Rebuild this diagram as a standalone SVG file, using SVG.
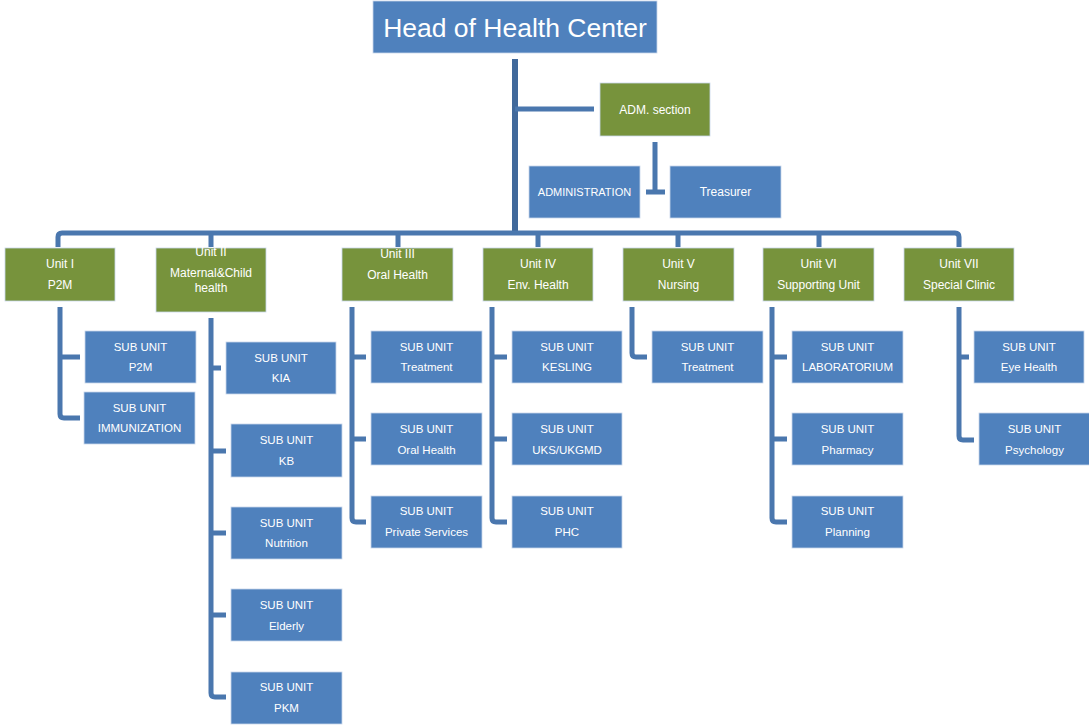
<svg xmlns="http://www.w3.org/2000/svg" width="1089" height="725" viewBox="0 0 1089 725">
  <style>
    .blue { fill: #4F81BD; stroke: #C9D6EA; stroke-width: 0.8; }
    .green { fill: #77933C; stroke: #C9D6EA; stroke-width: 0.8; }
    text { font-family: "Liberation Sans", Arial, sans-serif; fill: #FFFFFF; text-anchor: middle; }
    .unit { font-size: 12px; }
    .sub { font-size: 11.5px; }
    .conn { fill: none; stroke: #4A77AE; stroke-width: 5; stroke-linejoin: round; }
    .trunk { fill: none; stroke: #41699B; stroke-width: 6; }
  </style>
  <rect width="1089" height="725" fill="#FFFFFF"/>

  <!-- connectors -->
  <g id="connectors">
    <path class="trunk" d="M515 59 V233"/>
    <path class="conn" d="M515 109 H594"/>
    <path class="conn" d="M655 142 V192 M646 192 H665"/>
    <!-- bus to units -->
    <path class="conn" d="M58 247 V237 Q58 233 62 233 H955 Q959 233 959 237 V247"/>
    <path class="conn" d="M211 233 V247 M398 233 V247 M538 233 V247 M678 233 V247 M819 233 V247"/>
    <!-- unit I -->
    <path class="conn" d="M60 307 V414 Q60 418 64 418 H80 M60 357 H80"/>
    <!-- unit II -->
    <path class="conn" d="M211 318 V693 Q211 697 215 697 H226 M211 368 H221 M211 451 H226 M211 533 H226 M211 615 H226"/>
    <!-- unit III -->
    <path class="conn" d="M352 307 V518 Q352 522 356 522 H366 M352 357 H366 M352 439 H366"/>
    <!-- unit IV -->
    <path class="conn" d="M492 307 V518 Q492 522 496 522 H507 M492 357 H507 M492 439 H507"/>
    <!-- unit V -->
    <path class="conn" d="M632 307 V353 Q632 357 636 357 H647"/>
    <!-- unit VI -->
    <path class="conn" d="M772 307 V518 Q772 522 776 522 H787 M772 357 H787 M772 439 H787"/>
    <!-- unit VII -->
    <path class="conn" d="M959 307 V436 Q959 440 963 440 H974 M959 357 H969"/>
  </g>

  <!-- top level -->
  <g id="head">
    <rect class="blue" x="373" y="1" width="284" height="52"/>
    <text x="515" y="37" style="font-size:26.5px">Head of Health Center</text>
  </g>
  <g id="adm-section">
    <rect class="green" x="600" y="83" width="110" height="53"/>
    <text class="unit" x="655" y="114">ADM. section</text>
  </g>
  <g id="administration">
    <rect class="blue" x="529" y="166" width="111" height="52"/>
    <text x="584.5" y="196" style="font-size:11px">ADMINISTRATION</text>
  </g>
  <g id="treasurer">
    <rect class="blue" x="670" y="166" width="111" height="52"/>
    <text class="unit" x="725.5" y="196">Treasurer</text>
  </g>

  <!-- units -->
  <g id="unit-1">
    <rect class="green" x="5" y="248" width="110" height="53"/>
    <text class="unit" x="60" y="268">Unit I</text>
    <text class="unit" x="60" y="289">P2M</text>
  </g>
  <g id="unit-2">
    <rect class="green" x="156" y="248" width="110" height="64"/>
    <text class="unit" x="211" y="256">Unit II</text>
    <text class="unit" x="211" y="277">Maternal&amp;Child</text>
    <text class="unit" x="211" y="292">health</text>
  </g>
  <g id="unit-3">
    <rect class="green" x="342" y="248" width="111" height="53"/>
    <text class="unit" x="397.5" y="258">Unit III</text>
    <text class="unit" x="397.5" y="279">Oral Health</text>
  </g>
  <g id="unit-4">
    <rect class="green" x="483" y="248" width="110" height="53"/>
    <text class="unit" x="538" y="268">Unit IV</text>
    <text class="unit" x="538" y="289">Env. Health</text>
  </g>
  <g id="unit-5">
    <rect class="green" x="623" y="248" width="111" height="53"/>
    <text class="unit" x="678.5" y="268">Unit V</text>
    <text class="unit" x="678.5" y="289">Nursing</text>
  </g>
  <g id="unit-6">
    <rect class="green" x="763" y="248" width="111" height="53"/>
    <text class="unit" x="818.5" y="268">Unit VI</text>
    <text class="unit" x="818.5" y="289">Supporting Unit</text>
  </g>
  <g id="unit-7">
    <rect class="green" x="904" y="248" width="110" height="53"/>
    <text class="unit" x="959" y="268">Unit VII</text>
    <text class="unit" x="959" y="289">Special Clinic</text>
  </g>

  <!-- sub units: unit I -->
  <g id="sub-p2m">
    <rect class="blue" x="85" y="331" width="111" height="52"/>
    <text class="sub" x="140.5" y="351">SUB UNIT</text>
    <text class="sub" x="140.5" y="371">P2M</text>
  </g>
  <g id="sub-immunization">
    <rect class="blue" x="84" y="392" width="111" height="52"/>
    <text class="sub" x="139.5" y="412">SUB UNIT</text>
    <text class="sub" x="139.5" y="432">IMMUNIZATION</text>
  </g>

  <!-- sub units: unit II -->
  <g id="sub-kia">
    <rect class="blue" x="226" y="342" width="110" height="52"/>
    <text class="sub" x="281" y="362">SUB UNIT</text>
    <text class="sub" x="281" y="382">KIA</text>
  </g>
  <g id="sub-kb">
    <rect class="blue" x="231" y="424" width="111" height="53"/>
    <text class="sub" x="286.5" y="444">SUB UNIT</text>
    <text class="sub" x="286.5" y="465">KB</text>
  </g>
  <g id="sub-nutrition">
    <rect class="blue" x="231" y="507" width="111" height="52"/>
    <text class="sub" x="286.5" y="527">SUB UNIT</text>
    <text class="sub" x="286.5" y="547">Nutrition</text>
  </g>
  <g id="sub-elderly">
    <rect class="blue" x="231" y="589" width="111" height="52"/>
    <text class="sub" x="286.5" y="609">SUB UNIT</text>
    <text class="sub" x="286.5" y="630">Elderly</text>
  </g>
  <g id="sub-pkm">
    <rect class="blue" x="231" y="672" width="111" height="52"/>
    <text class="sub" x="286.5" y="691">SUB UNIT</text>
    <text class="sub" x="286.5" y="712">PKM</text>
  </g>

  <!-- sub units: unit III -->
  <g id="sub-treatment-oral">
    <rect class="blue" x="371" y="331" width="111" height="52"/>
    <text class="sub" x="426.5" y="351">SUB UNIT</text>
    <text class="sub" x="426.5" y="371">Treatment</text>
  </g>
  <g id="sub-oral-health">
    <rect class="blue" x="371" y="413" width="111" height="52"/>
    <text class="sub" x="426.5" y="433">SUB UNIT</text>
    <text class="sub" x="426.5" y="454">Oral Health</text>
  </g>
  <g id="sub-private-services">
    <rect class="blue" x="371" y="496" width="111" height="52"/>
    <text class="sub" x="426.5" y="515">SUB UNIT</text>
    <text class="sub" x="426.5" y="536">Private Services</text>
  </g>

  <!-- sub units: unit IV -->
  <g id="sub-kesling">
    <rect class="blue" x="512" y="331" width="110" height="52"/>
    <text class="sub" x="567" y="351">SUB UNIT</text>
    <text class="sub" x="567" y="371">KESLING</text>
  </g>
  <g id="sub-uks">
    <rect class="blue" x="512" y="413" width="110" height="52"/>
    <text class="sub" x="567" y="433">SUB UNIT</text>
    <text class="sub" x="567" y="454">UKS/UKGMD</text>
  </g>
  <g id="sub-phc">
    <rect class="blue" x="512" y="496" width="110" height="52"/>
    <text class="sub" x="567" y="515">SUB UNIT</text>
    <text class="sub" x="567" y="536">PHC</text>
  </g>

  <!-- sub units: unit V -->
  <g id="sub-treatment-nursing">
    <rect class="blue" x="652" y="331" width="111" height="52"/>
    <text class="sub" x="707.5" y="351">SUB UNIT</text>
    <text class="sub" x="707.5" y="371">Treatment</text>
  </g>

  <!-- sub units: unit VI -->
  <g id="sub-laboratorium">
    <rect class="blue" x="792" y="331" width="111" height="52"/>
    <text class="sub" x="847.5" y="351">SUB UNIT</text>
    <text class="sub" x="847.5" y="371">LABORATORIUM</text>
  </g>
  <g id="sub-pharmacy">
    <rect class="blue" x="792" y="413" width="111" height="52"/>
    <text class="sub" x="847.5" y="433">SUB UNIT</text>
    <text class="sub" x="847.5" y="454">Pharmacy</text>
  </g>
  <g id="sub-planning">
    <rect class="blue" x="792" y="496" width="111" height="52"/>
    <text class="sub" x="847.5" y="515">SUB UNIT</text>
    <text class="sub" x="847.5" y="536">Planning</text>
  </g>

  <!-- sub units: unit VII -->
  <g id="sub-eye-health">
    <rect class="blue" x="974" y="331" width="110" height="52"/>
    <text class="sub" x="1029" y="351">SUB UNIT</text>
    <text class="sub" x="1029" y="371">Eye Health</text>
  </g>
  <g id="sub-psychology">
    <rect class="blue" x="979" y="413" width="111" height="52"/>
    <text class="sub" x="1034.5" y="433">SUB UNIT</text>
    <text class="sub" x="1034.5" y="454">Psychology</text>
  </g>
</svg>
